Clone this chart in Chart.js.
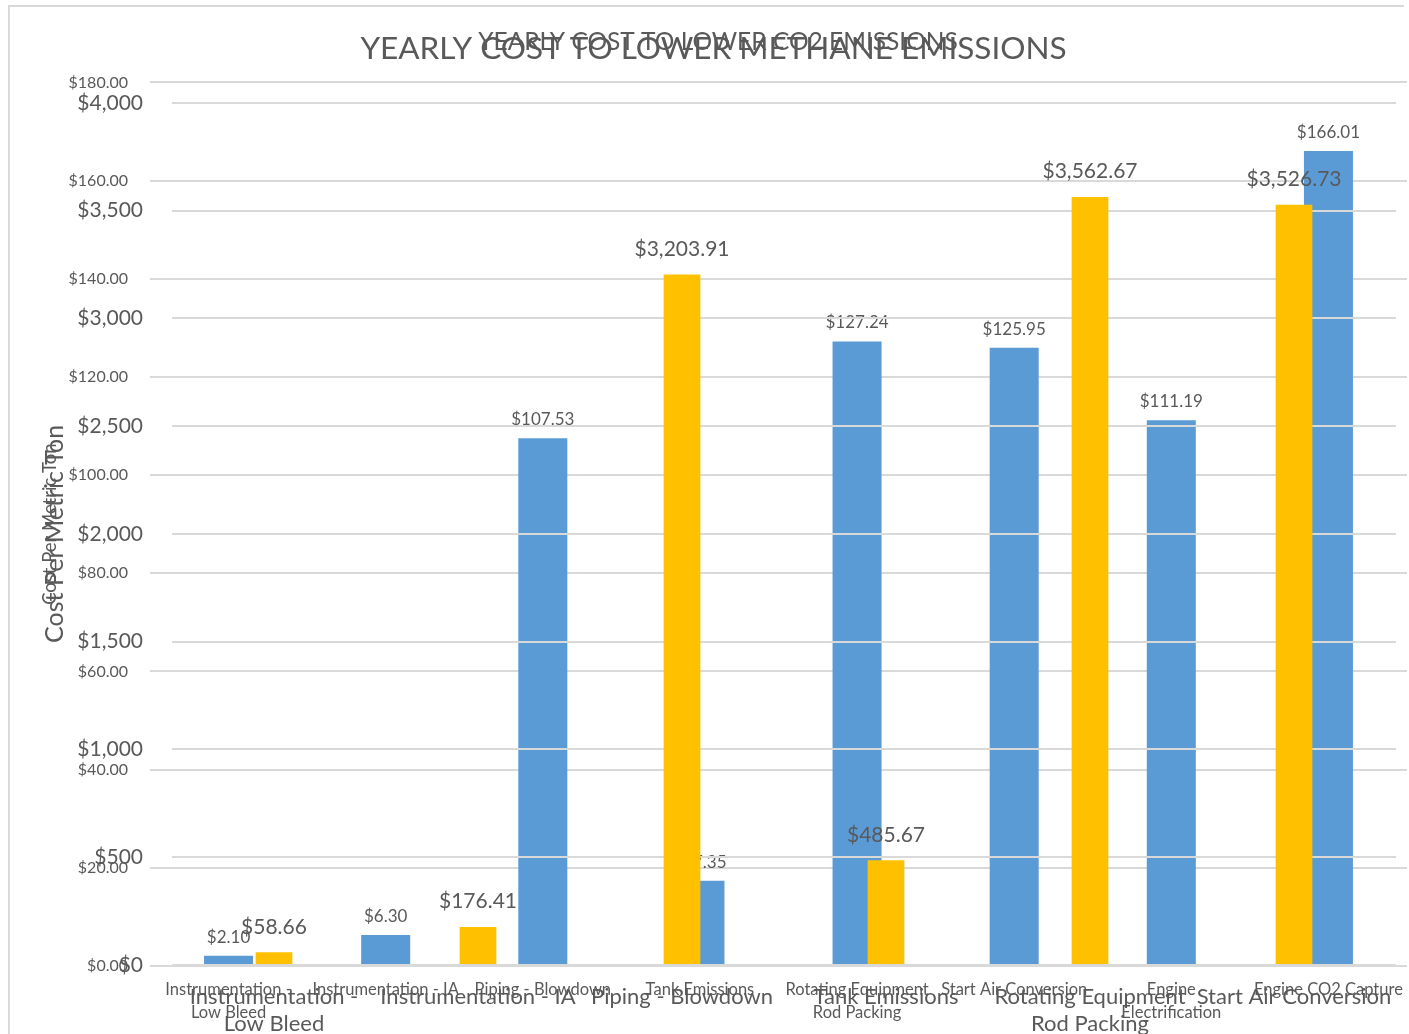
<!DOCTYPE html>
<html>
<head>
<meta charset="utf-8">
<script src="https://cdn.jsdelivr.net/npm/chart.js@4.4.1/dist/chart.umd.min.js"></script>
<style>
  body { margin: 0; background: #fff; overflow: hidden; }
  #wrap { position: relative; width: 1409px; height: 1034px; overflow: hidden; }
  #frameLeft { position: absolute; left: 8px; top: 5px; width: 2px; height: 1100px; background: #d9d9d9; }
  #frameTop { position: absolute; left: 8px; top: 5px; width: 1396px; height: 2px; background: #d9d9d9; }
  canvas { position: absolute; left: 0; top: 0; }
</style>
</head>
<body>
<div id="wrap">
  <div id="frameLeft"></div>
  <div id="frameTop"></div>
  <canvas id="co2Chart" width="1409" height="1034"></canvas>
  <canvas id="methaneChart" width="1409" height="1034"></canvas>
</div>
<script>
// CO2 chart (drawn underneath)
var co2Categories = [["Instrumentation -", "Low Bleed"], "Instrumentation - IA", "Piping - Blowdown", "Tank Emissions",
  ["Rotating Equipment", "Rod Packing"], "Start Air Conversion", ["Engine", "Electrification"], "Engine CO2 Capture"];
var co2Values = [2.10, 6.30, 107.53, 17.35, 127.24, 125.95, 111.19, 166.01];
var co2Max = 180, co2Step = 20;

// Methane chart (drawn on top)
var methaneCategories = [["Instrumentation -", "Low Bleed"], "Instrumentation - IA", "Piping - Blowdown", "Tank Emissions",
  ["Rotating Equipment", "Rod Packing"], "Start Air Conversion"];
var methaneValues = [58.66, 176.41, 3203.91, 485.67, 3562.67, 3526.73];
var methaneMax = 4000, methaneStep = 500;

var grey = '#595959';
var fontFam = 'Lato';

function money(v, dec) {
  return '$' + v.toLocaleString('en-US', {minimumFractionDigits: dec, maximumFractionDigits: dec});
}

// draws the value above each bar
var barLabels = {
  id: 'barLabels',
  afterDatasetsDraw: function(chart, args, opts) {
    var ctx = chart.ctx;
    ctx.save();
    ctx.font = opts.size + 'px ' + fontFam;
    ctx.fillStyle = grey;
    ctx.textAlign = 'center';
    ctx.textBaseline = 'bottom';
    chart.getDatasetMeta(0).data.forEach(function(bar, i) {
      var v = chart.data.datasets[0].data[i];
      ctx.fillText(money(v, 2), bar.x, bar.y - opts.gap);
    });
    ctx.restore();
  }
};

function makeChart(id, cats, vals, color, max, step, cfg) {
  return new Chart(document.getElementById(id), {
    type: 'bar',
    data: {
      labels: cats,
      datasets: [{
        data: vals,
        backgroundColor: color,
        categoryPercentage: 1,
        barPercentage: cfg.barPct
      }]
    },
    plugins: [barLabels],
    options: {
      responsive: false,
      animation: false,
      layout: { padding: { left: cfg.padLeft, right: cfg.padRight, top: 0, bottom: 0 } },
      plugins: {
        legend: { display: false },
        tooltip: { enabled: false },
        title: {
          display: true,
          text: cfg.title,
          color: grey,
          font: { family: fontFam, size: cfg.titleSize, weight: 'normal' },
          padding: { top: cfg.titleTop, bottom: cfg.titleBottom }
        },
        barLabels: { size: cfg.labelSize, gap: cfg.labelGap }
      },
      scales: {
        x: {
          grid: { display: false, drawTicks: false },
          border: { display: false },
          ticks: {
            color: grey,
            autoSkip: false,
            maxRotation: 0,
            padding: cfg.xPad,
            font: { family: fontFam, size: cfg.xSize, lineHeight: cfg.xLine }
          },
          afterFit: function(s) {
            s.height = cfg.xHeight;
            // labels may spill past the plot edges, as in the original
            s.paddingLeft = 0;
            s.paddingRight = 0;
          }
        },
        y: {
          min: 0,
          max: max,
          grid: { color: '#d9d9d9', lineWidth: 2, drawTicks: false },
          border: { display: false },
          ticks: {
            stepSize: step,
            color: grey,
            padding: cfg.yPad,
            font: { family: fontFam, size: cfg.ySize },
            callback: function(v) { return money(v, cfg.dec); }
          },
          title: {
            display: true,
            text: 'Cost Per Metric Ton',
            color: grey,
            font: { family: fontFam, size: cfg.yTitleSize },
            padding: { top: cfg.yTitlePad, bottom: 0 }
          },
          afterFit: function(s) { s.width = cfg.yWidth; }
        }
      }
    }
  });
}

makeChart('co2Chart', co2Categories, co2Values, '#5B9BD5', co2Max, co2Step, {
  title: 'YEARLY COST TO LOWER CO2 EMISSIONS', titleSize: 24.5, titleTop: 27, titleBottom: 26,
  barPct: 0.312, padLeft: 29, padRight: 2, labelSize: 17, labelGap: 10,
  xSize: 16.5, xLine: 1.39, xPad: 12, xHeight: 68,
  ySize: 16, yPad: 22, dec: 2, yTitleSize: 18.5, yTitlePad: 10, yWidth: 121
});

makeChart('methaneChart', methaneCategories, methaneValues, '#FFC000', methaneMax, methaneStep, {
  title: 'YEARLY COST TO LOWER METHANE EMISSIONS', titleSize: 31.5, titleTop: 30, titleBottom: 35,
  barPct: 0.18, padLeft: 31, padRight: 13, labelSize: 21, labelGap: 15,
  xSize: 22, xLine: 1.23, xPad: 18, xHeight: 69,
  ySize: 21, yPad: 29, dec: 0, yTitleSize: 25, yTitlePad: 9, yWidth: 141
});
</script>
</body>
</html>
